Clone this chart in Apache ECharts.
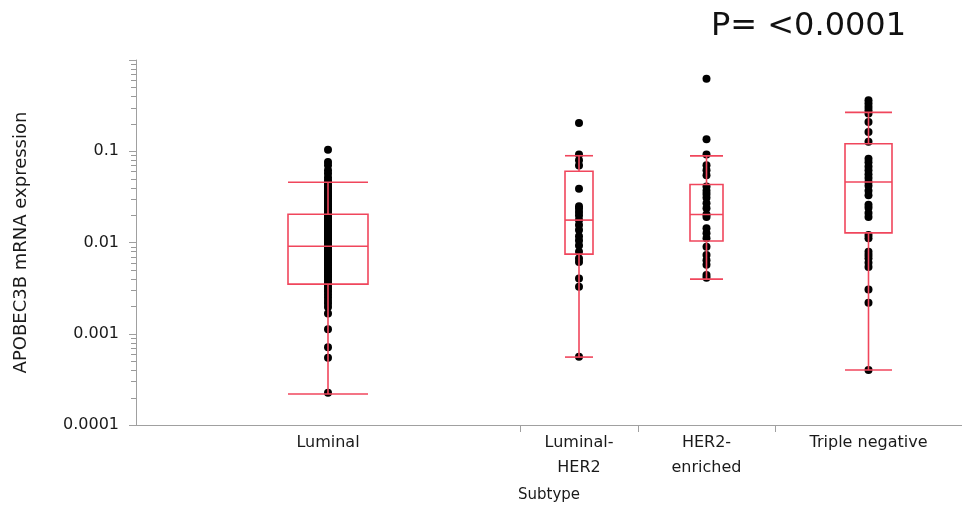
<!DOCTYPE html>
<html>
<head>
<meta charset="utf-8">
<script src="https://cdn.jsdelivr.net/npm/echarts@6/dist/echarts.min.js"></script>
<style>
html,body{margin:0;padding:0;background:#fff;}
#chart{width:962px;height:512px;}
</style>
</head>
<body>
<div id="chart"></div>
<script>
// ---- data ----
const categories = ['Luminal', 'Luminal-\nHER2', 'HER2-\nenriched', 'Triple negative'];
// relative category widths (JMP widths proportional to group size)
const groupWeights = [384, 118, 137, 187];
// box statistics: [min whisker, Q1, median, Q3, max whisker]
const boxStats = [
  [0.000219, 0.0035, 0.0091, 0.0204, 0.0457],
  [0.000555, 0.00745, 0.0176, 0.0604, 0.0893],
  [0.00397, 0.0104, 0.0203, 0.0432, 0.0889],
  [0.0004, 0.01276, 0.0461, 0.121, 0.267]
];
const luminal = [0.104, 0.0764, 0.0703, 0.0619, 0.0569, 0.0515, 0.0478, 0.0455, 0.0431, 0.0412, 0.0398, 0.0380,
  0.0362, 0.0349, 0.0331, 0.0318, 0.0305, 0.0291, 0.0280, 0.0268, 0.0259, 0.0247, 0.0238, 0.0229, 0.0221, 0.0212,
  0.0204, 0.0197, 0.0189, 0.0183, 0.0176, 0.0169, 0.0163, 0.0157, 0.0151, 0.0146, 0.0140, 0.0135, 0.0130, 0.0125,
  0.0121, 0.0116, 0.0112, 0.0108, 0.0104, 0.0100, 0.0097, 0.0094, 0.0091, 0.0088, 0.0085, 0.0082, 0.0079, 0.0076,
  0.0073, 0.0070, 0.0068, 0.0065, 0.0063, 0.0060, 0.0058, 0.0056, 0.0053, 0.0051, 0.0049, 0.0047, 0.0045, 0.0043,
  0.0041, 0.0039, 0.0037, 0.0035, 0.0033, 0.0031, 0.0029, 0.0027, 0.0025, 0.0023, 0.00215, 0.00197, 0.00167,
  0.00112, 0.00071, 0.000546, 0.000226];
const luminalHER2 = [0.204, 0.092, 0.0796, 0.070, 0.0387, 0.0250, 0.0236, 0.0216, 0.0198, 0.0176, 0.0156, 0.0137,
  0.0117, 0.0105, 0.0093, 0.0079, 0.00668, 0.0061, 0.00404, 0.00327, 0.00056];
const her2Enriched = [0.625, 0.135, 0.092, 0.0703, 0.0619, 0.0545, 0.041, 0.037, 0.034, 0.031, 0.027, 0.0237,
  0.0203, 0.019, 0.0143, 0.0126, 0.0111, 0.0090, 0.0073, 0.0064, 0.0057, 0.0044, 0.0041];
const tripleNegative = [0.362, 0.333, 0.306, 0.281, 0.259, 0.209, 0.163, 0.127, 0.083, 0.076, 0.068, 0.062, 0.056,
  0.051, 0.046, 0.042, 0.037, 0.033, 0.026, 0.024, 0.021, 0.019, 0.0121, 0.0111, 0.0079, 0.0073, 0.0067, 0.0060,
  0.0054, 0.00306, 0.00218, 0.0004];
const groupValues = [luminal, luminalHER2, her2Enriched, tripleNegative];
const yDecades = [0.0001, 0.001, 0.01, 0.1];
const yMinorMultipliers = [2, 3, 4, 5, 6, 7, 8, 9];
const pText = 'P= <0.0001';

// ---- styles ----
const RED = '#F0465C';
const AXIS = '#A0A0A0';
const MINOR = '#999999';
const TEXT = '#1a1a1a';
const boxWidthPx = [80, 28, 33, 47];

// derived positions on the x value axis
const bounds = [0];
groupWeights.forEach((w, i) => bounds.push(bounds[i] + w));
const centers = groupWeights.map((w, i) => bounds[i] + w / 2);
const total = bounds[bounds.length - 1];

const minorTickData = [];
yDecades.forEach(v => yMinorMultipliers.forEach(m => minorTickData.push([0, m * v])));

const scatterData = [];
groupValues.forEach((vals, i) => vals.forEach(v => scatterData.push([centers[i], v])));
const boxData = boxStats.map((s, i) => [centers[i]].concat(s));

const chart = echarts.init(document.getElementById('chart'), null, {renderer: 'canvas'});
const font = 'DejaVu Sans';
chart.setOption({
  animation: false,
  backgroundColor: '#fff',
  title: {
    text: pText, left: 706, top: 6,
    textStyle: {fontFamily: font, fontSize: 32, fontWeight: 'normal', color: '#111'}
  },
  grid: {left: 136, right: 962 - 136 - total, top: 60, bottom: 87, containLabel: false},
  xAxis: {
    type: 'value', min: 0, max: total,
    name: 'Subtype', nameLocation: 'middle', nameGap: 63,
    nameTextStyle: {fontFamily: font, fontSize: 15, color: TEXT},
    splitLine: {show: false},
    axisLine: {show: true, lineStyle: {color: AXIS, width: 1}},
    axisTick: {show: true, length: 7, customValues: bounds.slice(1, bounds.length - 1), lineStyle: {color: AXIS}},
    axisLabel: {
      customValues: centers, margin: 5, fontFamily: font, fontSize: 16, color: TEXT, lineHeight: 25,
      formatter: v => { const i = centers.findIndex(c => Math.abs(c - v) < 0.01); return i >= 0 ? categories[i] : ''; }
    }
  },
  yAxis: {
    type: 'log', logBase: 10, min: 0.0001, max: 1,
    name: 'APOBEC3B mRNA expression', nameLocation: 'middle', nameGap: 106, nameRotate: 90,
    nameTextStyle: {fontFamily: font, fontSize: 18, color: TEXT},
    splitLine: {show: false},
    axisLine: {show: true, lineStyle: {color: AXIS, width: 1}},
    axisTick: {show: true, length: 7, lineStyle: {color: AXIS}},
    axisLabel: {
      margin: 17, fontFamily: font, fontSize: 16, color: TEXT,
      formatter: v => (v >= 0.9 ? '' : String(Number(Number(v).toPrecision(1))))
    }
  },
  series: [{
    type: 'scatter', data: scatterData, symbol: 'circle', symbolSize: 8,
    itemStyle: {color: '#000', opacity: 1}, z: 2, silent: true
  }, {
    type: 'custom', data: boxData, z: 3, silent: true,
    encode: {x: 0, y: [1, 2, 3, 4, 5]},
    renderItem: function (params, api) {
      const x = api.value(0);
      const w = boxWidthPx[params.dataIndex], h = w / 2;
      const pMin = api.coord([x, api.value(1)]);
      const pQ1 = api.coord([x, api.value(2)]);
      const pMed = api.coord([x, api.value(3)]);
      const pQ3 = api.coord([x, api.value(4)]);
      const pMax = api.coord([x, api.value(5)]);
      const cx = pMin[0];
      const st = {stroke: RED, lineWidth: 1.6, fill: 'transparent'};
      return {type: 'group', children: [
        {type: 'line', shape: {x1: cx, y1: pMax[1], x2: cx, y2: pQ3[1]}, style: st},
        {type: 'line', shape: {x1: cx, y1: pQ1[1], x2: cx, y2: pMin[1]}, style: st},
        {type: 'rect', shape: {x: cx - h, y: pQ3[1], width: w, height: pQ1[1] - pQ3[1]}, style: st},
        {type: 'line', shape: {x1: cx - h, y1: pMed[1], x2: cx + h, y2: pMed[1]}, style: st},
        {type: 'line', shape: {x1: cx - h, y1: pMax[1], x2: cx + h, y2: pMax[1]}, style: st},
        {type: 'line', shape: {x1: cx - h, y1: pMin[1], x2: cx + h, y2: pMin[1]}, style: st}
      ]};
    }
  }, {
    // minor log ticks (2..9 within each decade) on the y axis
    type: 'custom', data: minorTickData, z: 1, silent: true, clip: false,
    encode: {x: 0, y: 1},
    renderItem: function (params, api) {
      const p = api.coord([api.value(0), api.value(1)]);
      const y = Math.round(p[1]) + 0.5;
      return {type: 'line', shape: {x1: p[0] - 5, y1: y, x2: p[0], y2: y},
        style: {stroke: MINOR, lineWidth: 1}};
    }
  }]
});
</script>
</body>
</html>
